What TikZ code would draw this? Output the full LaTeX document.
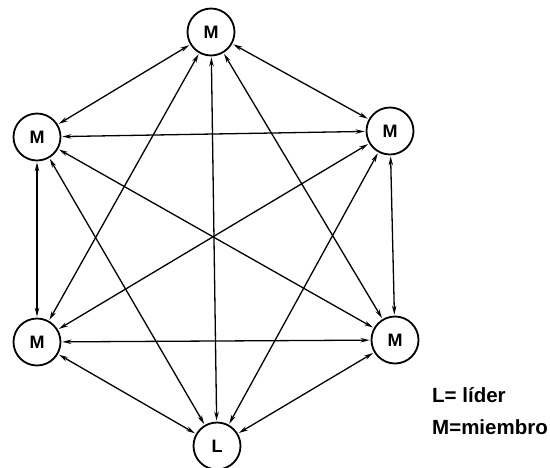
\documentclass[tikz,border=0pt]{standalone}
\usepackage{fontspec}
\setmainfont{Liberation Sans}
\usepackage{tikz}
\usetikzlibrary{arrows.meta}

\begin{document}
\begin{tikzpicture}[x=1pt, y=-1pt,
  member/.style={draw, circle, line width=1.8pt, minimum size=47pt, inner sep=0pt, font=\fontsize{18}{18}\selectfont\bfseries},
  link/.style={{Stealth[length=9pt,width=4.5pt]}-{Stealth[length=9pt,width=4.5pt]}, line width=1.3pt, shorten <=1pt, shorten >=1pt},
  legend/.style={anchor=west, inner sep=0pt, font=\fontsize{20.5}{20.5}\selectfont\bfseries}]
\useasboundingbox (0,0) rectangle (550,467);
% Members and leader
\node[member] (mtop) at (211,32) {M};
\node[member] (mlu) at (37,137) {M};
\node[member] (mru) at (390,131) {M};
\node[member] (mll) at (37,342) {M};
\node[member] (mrl) at (395,340) {M};
\node[member] (lead) at (217,446) {L};
% Every pair is linked both ways
\draw[link] (mtop) -- (mlu);
\draw[link] (mtop) -- (mru);
\draw[link] (mtop) -- (mll);
\draw[link] (mtop) -- (mrl);
\draw[link] (mtop) -- (lead);
\draw[link] (mlu) -- (mru);
\draw[link] (mlu) -- (mll);
\draw[link] (mlu) -- (mrl);
\draw[link] (mlu) -- (lead);
\draw[link] (mru) -- (mll);
\draw[link] (mru) -- (mrl);
\draw[link] (mru) -- (lead);
\draw[link] (mll) -- (mrl);
\draw[link] (mll) -- (lead);
\draw[link] (mrl) -- (lead);
% Legend
\node[legend] (keyl) at (432,395) {L= líder};
\node[legend] (keym) at (432,427) {M=miembro};
\end{tikzpicture}
\end{document}
